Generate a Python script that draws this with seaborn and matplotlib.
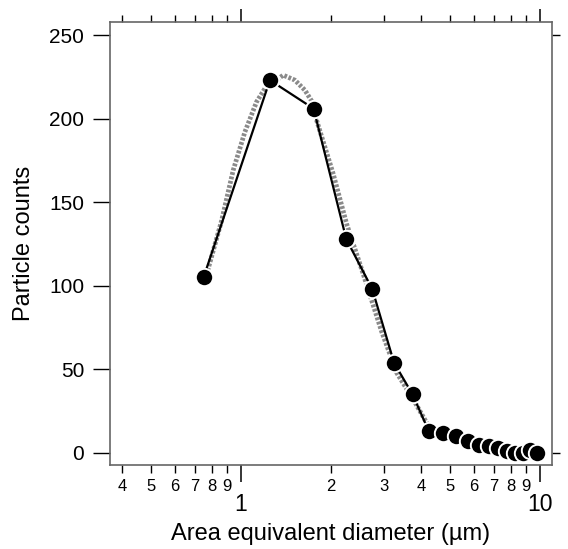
import matplotlib.pyplot as plt
import seaborn as sns

# particle size bins (µm) and counts
diameter = [0.75, 1.25, 1.75, 2.25, 2.75, 3.25, 3.75, 4.25, 4.75, 5.25,
            5.75, 6.25, 6.75, 7.25, 7.75, 8.25, 8.75, 9.25, 9.75]
counts = [105, 223, 206, 128, 98, 54, 35, 13, 12, 10,
          7, 5, 4, 3, 1, 0, 0, 2, 0]

# fitted curve
fit_diameter = [0.76, 0.774, 0.862, 0.942, 1.031, 1.128, 1.203, 1.385, 1.516,
                1.637, 1.745, 1.791, 2.035, 2.257, 2.565, 2.95, 3.317, 3.77,
                4.18, 4.27]
fit_counts = [104, 109, 139, 169, 192, 210, 218, 226, 223,
              217, 209, 199, 167, 137, 107, 73, 48, 32,
              18, 15]

major_ticks = [1, 10]
major_labels = ["1", "10"]
minor_ticks = [0.4, 0.5, 0.6, 0.7, 0.8, 0.9, 2, 3, 4, 5, 6, 7, 8, 9]
minor_labels = ["4", "5", "6", "7", "8", "9", "2", "3", "4", "5", "6", "7", "8", "9"]
y_ticks = [0, 50, 100, 150, 200, 250]

sns.set_theme(style="ticks")
plt.rcParams["font.family"] = ["Liberation Sans", "DejaVu Sans"]
plt.rcParams["text.color"] = "black"
plt.rcParams["axes.labelcolor"] = "black"
plt.rcParams["xtick.color"] = "black"
plt.rcParams["ytick.color"] = "black"

fig = plt.figure(figsize=(5.68, 5.49), dpi=100)
ax = fig.add_axes([110 / 568, 1 - 465 / 549, 442 / 568, 443 / 549])
ax.set_xscale("log")

sns.lineplot(x=fit_diameter, y=fit_counts, ax=ax, color="#8a8a8a", lw=3.4,
             linestyle=(0, (0.6, 0.35)), zorder=2)
sns.lineplot(x=diameter, y=counts, ax=ax, color="black", lw=1.6,
             marker="o", markersize=12.5, markerfacecolor="black",
             markeredgecolor="white", markeredgewidth=1.4, zorder=3)

ax.set_xlim(0.365, 10.97)
ax.set_ylim(-7.2, 257.8)

spine_col = "#666666"
for s in ax.spines.values():
    s.set_color(spine_col)
    s.set_linewidth(1.2)

ax.set_xticks(major_ticks, labels=major_labels)
ax.set_xticks(minor_ticks, labels=minor_labels, minor=True)
ax.tick_params(axis="x", which="major", length=12, width=1.1, pad=8,
               labelsize=16.5, direction="out")
ax.tick_params(axis="x", which="minor", length=6, width=1.0, pad=4,
               labelsize=12, direction="out")
ax.set_yticks(y_ticks)
ax.tick_params(axis="y", length=12, width=1.0, pad=6.5, labelsize=15,
               direction="out")

top = ax.secondary_xaxis("top")
top.set_xticks(major_ticks, labels=["", ""])
top.set_xticks(minor_ticks, labels=[""] * len(minor_ticks), minor=True)
top.tick_params(which="major", length=9.5, width=1.1)
top.tick_params(which="minor", length=5, width=1.0)
top.spines["top"].set_visible(False)

right = ax.secondary_yaxis("right")
right.set_yticks([0, 250], labels=["", ""])
right.tick_params(length=6, width=1.0)
right.spines["right"].set_visible(False)

ax.set_xlabel("Area equivalent diameter (µm)", fontsize=17, labelpad=5)
ax.set_ylabel("Particle counts", fontsize=17, labelpad=10)

plt.savefig("out.png", dpi=100)
